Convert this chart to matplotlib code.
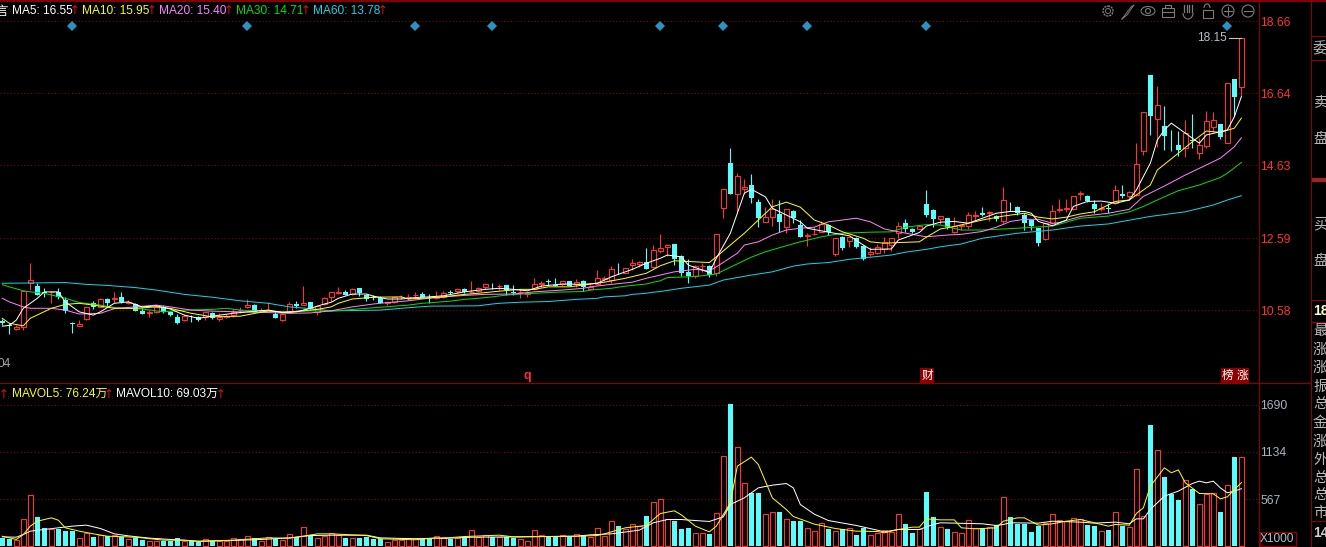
#!/usr/bin/env python3
# -*- coding: utf-8 -*-

import numpy as np
import matplotlib
matplotlib.use('Agg')
import matplotlib.pyplot as plt
from matplotlib.patches import Circle, Ellipse, Rectangle, Arc

W, H = 1326, 547
FONT = ['Liberation Sans', 'Noto Sans CJK SC', 'DejaVu Sans']
CJK = ['Noto Sans CJK SC', 'DejaVu Sans']
RED = '#ff3232'
CYAN = '#54ffff'
FRAME = '#8c0000'

opens = [10.27,10.16,10.06,10.10,11.34,11.25,11.09,11.08,11.10,10.85,
         10.22,10.14,10.33,10.77,10.68,10.88,10.90,10.94,10.78,10.75,
         10.56,10.49,10.54,10.66,10.52,10.38,10.30,10.39,10.38,10.38,
         10.49,10.34,10.38,10.43,10.57,10.66,10.72,10.55,10.56,10.47,
         10.30,10.53,10.75,10.73,10.80,10.52,10.75,10.95,11.07,11.09,
         11.04,11.19,11.00,10.95,10.92,10.78,10.80,10.94,10.93,10.99,
         11.02,10.96,10.93,10.95,11.09,11.11,11.17,11.08,11.12,11.22,
         11.26,11.24,11.27,11.10,11.08,11.04,11.16,11.32,11.38,11.29,
         11.30,11.38,11.31,11.38,11.18,11.31,11.46,11.42,11.71,11.63,
         11.83,11.86,11.92,11.79,12.24,12.35,12.42,12.09,11.65,11.54,
         11.80,11.81,11.61,13.45,14.70,13.84,13.96,14.08,13.60,13.05,
         13.19,13.27,12.91,13.35,12.95,12.65,12.70,12.76,12.95,12.16,
         12.62,12.50,12.59,12.37,12.15,12.18,12.29,12.40,12.73,13.01,
         12.85,12.86,13.55,13.38,13.14,13.15,12.76,12.93,12.92,13.21,
         13.29,13.30,13.21,13.08,13.56,13.46,13.24,13.10,12.87,12.58,
         13.03,13.39,13.42,13.41,13.84,13.77,13.55,13.42,13.44,13.57,
         13.83,13.76,13.80,15.04,17.16,15.94,15.73,15.29,15.20,15.11,
         15.33,14.97,15.18,15.71,15.79,15.25,17.04,16.83]
closes = [10.23,10.14,10.10,11.12,11.41,11.00,11.05,11.09,10.94,10.56,
          10.20,10.18,10.68,10.67,10.88,10.79,10.92,10.80,10.81,10.56,
          10.48,10.54,10.66,10.52,10.45,10.23,10.42,10.38,10.30,10.54,
          10.36,10.38,10.41,10.54,10.59,10.71,10.54,10.57,10.59,10.37,
          10.46,10.74,10.70,10.78,10.62,10.70,10.91,11.08,11.09,11.00,
          11.16,11.07,10.89,10.93,10.79,10.80,10.94,10.96,10.94,11.00,
          10.96,10.95,10.94,11.07,11.07,11.16,11.10,11.10,11.20,11.31,
          11.24,11.26,11.14,11.05,11.10,11.07,11.31,11.34,11.36,11.26,
          11.38,11.26,11.37,11.22,11.23,11.47,11.48,11.72,11.69,11.76,
          11.89,11.92,11.74,12.26,12.31,12.40,12.01,11.61,11.53,11.80,
          11.82,11.56,12.70,13.96,13.84,14.32,14.02,13.73,13.17,13.18,
          13.40,13.05,13.40,13.15,12.63,12.69,12.72,12.99,12.77,12.59,
          12.32,12.62,12.35,12.02,12.21,12.35,12.49,12.59,12.94,12.85,
          12.77,12.93,13.24,13.14,13.20,12.90,12.94,12.95,13.23,13.23,
          13.25,13.32,13.14,13.65,13.54,13.29,13.03,12.93,12.47,13.01,
          13.35,13.41,13.44,13.76,13.86,13.63,13.41,13.44,13.42,13.93,
          13.76,13.88,14.66,16.12,16.00,16.31,15.46,15.27,15.06,15.53,
          15.31,15.19,15.86,15.89,15.41,16.93,16.55,18.19]
highs = [10.32,10.21,10.16,11.12,11.91,11.35,11.21,11.09,11.21,10.95,
         10.24,10.30,10.68,10.83,10.91,10.91,11.09,11.09,10.86,10.77,
         10.63,10.58,10.72,10.72,10.56,10.47,10.47,10.44,10.41,10.54,
         10.53,10.49,10.47,10.60,10.67,10.88,10.74,10.63,10.81,10.56,
         10.49,10.80,10.83,11.25,10.81,10.72,10.94,11.08,11.23,11.14,
         11.20,11.20,11.02,11.00,10.97,10.84,10.94,11.00,11.02,11.09,
         11.08,11.03,11.11,11.11,11.14,11.16,11.21,11.39,11.23,11.35,
         11.33,11.31,11.28,11.28,11.16,11.09,11.48,11.40,11.46,11.49,
         11.38,11.39,11.45,11.42,11.28,11.70,11.54,11.81,11.91,11.76,
         12.01,11.96,12.32,12.40,12.70,12.43,12.42,12.12,12.00,11.84,
         11.91,11.84,12.70,13.96,15.11,14.41,14.24,14.38,13.68,13.46,
         13.68,13.66,13.40,13.38,13.10,12.73,12.91,13.08,12.98,12.59,
         12.65,12.62,12.62,12.40,12.34,12.43,12.62,12.59,13.04,13.13,
         12.87,12.96,13.94,13.41,13.20,13.15,13.18,12.96,13.33,13.35,
         13.46,13.35,13.24,14.03,13.60,13.49,13.29,13.12,12.89,13.01,
         13.52,13.68,13.68,13.78,13.91,13.79,13.66,13.59,13.57,14.08,
         14.08,13.90,15.25,16.12,17.16,16.85,16.29,15.62,15.60,15.90,
         16.07,15.39,16.15,16.13,15.79,16.93,17.04,18.19]
lows = [10.15,9.91,10.02,10.02,11.14,11.00,10.95,10.77,10.89,10.49,
        9.95,10.13,10.30,10.60,10.67,10.67,10.77,10.77,10.74,10.55,
        10.47,10.39,10.49,10.51,10.41,10.19,10.27,10.25,10.27,10.30,
        10.33,10.27,10.36,10.39,10.51,10.64,10.53,10.53,10.52,10.35,
        10.27,10.53,10.65,10.71,10.60,10.45,10.72,10.84,11.03,10.99,
        11.00,10.97,10.84,10.86,10.77,10.73,10.77,10.88,10.86,10.88,
        10.94,10.79,10.88,10.92,11.03,11.05,11.07,11.05,11.09,11.16,
        11.16,11.14,11.00,11.00,10.91,10.95,11.14,11.23,11.28,11.25,
        11.25,11.25,11.23,11.11,11.14,11.28,11.39,11.35,11.59,11.61,
        11.70,11.78,11.72,11.75,12.17,12.09,11.84,11.53,11.35,11.47,
        11.65,11.51,11.54,13.17,13.84,13.31,13.83,13.59,12.91,13.05,
        12.94,12.77,12.75,13.03,12.63,12.38,12.69,12.76,12.68,12.09,
        12.26,12.35,12.33,11.98,12.09,12.15,12.19,12.24,12.61,12.77,
        12.73,12.84,13.18,12.91,12.99,12.84,12.73,12.82,12.86,13.10,
        13.20,13.06,13.06,13.03,13.36,13.24,12.82,12.82,12.37,12.54,
        12.99,13.33,13.33,13.38,13.66,13.61,13.29,13.34,13.29,13.55,
        13.73,13.66,13.76,14.92,15.48,15.15,15.06,15.04,14.89,14.86,
        15.11,14.82,15.11,15.57,15.36,15.25,16.00,16.55]
volumes = [96,92,72,330,617,358,223,203,203,187,
           183,96,163,115,135,123,135,111,92,96,
           72,68,68,68,64,96,68,68,48,92,
           64,64,64,103,92,127,103,68,115,92,
           72,151,115,235,123,107,131,163,135,107,
           107,107,111,84,92,56,72,72,100,103,
           92,103,131,115,92,96,100,199,111,135,
           115,115,115,107,92,68,199,135,119,119,
           139,123,151,139,111,223,131,306,239,203,
           271,243,370,533,569,330,310,203,215,163,
           163,155,402,1083,1707,1190,760,633,633,390,
           414,406,330,299,310,223,187,283,203,187,
           207,219,143,215,139,159,199,175,390,263,
           167,203,645,358,235,203,175,163,318,219,
           223,231,255,593,358,263,263,179,239,279,
           390,318,310,342,326,251,239,187,191,414,
           239,227,927,366,1445,1154,824,621,561,796,
           681,509,621,641,406,736,1063,1071]

ma5_idx = [0,1,2,3,5,6,8,9,11,13,14,16,18,20,22,24,26,28,30,33,35,38,40,42,44,46,47,
           48,50,52,53,55,57,59,61,63,66,69,71,73,75,77,80,83,85,87,90,92,94,
           95,97,98,100,101,102,104,105,106,107,109,110,112,114,115,118,121,123,124,127,128,131,132,134,
           136,138,140,142,144,146,147,148,150,152,153,155,157,159,161,162,164,165,166,167,169,171,172,174,175,176,177]
ma5 = [10.13,10.15,10.30,10.63,10.91,11.09,11.09,10.81,10.53,10.44,10.53,10.77,10.81,10.67,10.70,10.61,10.44,10.35,10.41,10.49,10.53,10.58,10.51,10.53,10.63,10.75,10.80,
       10.91,11.03,11.03,10.97,10.89,10.89,10.93,10.95,10.98,11.09,11.16,11.19,11.16,11.12,11.25,11.31,11.30,11.33,11.51,11.72,11.89,12.03,
       12.12,12.07,11.84,11.70,11.63,12.03,12.73,13.29,13.85,13.96,13.75,13.43,13.24,13.05,12.87,12.76,12.66,12.40,12.28,12.29,12.54,12.75,12.93,13.04,
       13.06,13.01,13.15,13.29,13.34,13.34,13.29,13.06,12.94,13.10,13.48,13.62,13.63,13.57,13.66,13.94,14.69,15.34,15.62,15.81,15.53,15.25,15.48,15.57,15.62,15.99,16.55]

ma10_idx = [0,1,3,4,7,9,11,13,16,19,22,24,27,30,34,38,40,43,45,47,
            48,50,53,57,58,60,63,66,68,71,74,76,78,81,83,86,89,92,94,
            96,99,101,102,104,106,108,110,112,114,116,118,120,123,124,126,128,131,132,134,
            136,138,140,143,146,148,150,152,154,156,159,161,162,164,165,168,170,172,174,176,177]
ma10 = [10.35,10.21,10.14,10.35,10.63,10.74,10.77,10.72,10.63,10.63,10.67,10.63,10.49,10.39,10.41,10.56,10.52,10.56,10.60,10.67,
        10.77,10.89,10.94,10.95,10.89,10.91,10.95,11.02,11.05,11.11,11.16,11.16,11.23,11.23,11.28,11.36,11.47,11.61,11.82,
        11.96,11.93,11.91,12.07,12.40,12.73,13.10,13.47,13.60,13.46,13.10,12.96,12.77,12.59,12.49,12.45,12.47,12.49,12.62,12.85,
        12.92,13.01,13.10,13.21,13.29,13.18,13.13,13.18,13.27,13.33,13.62,13.66,13.80,14.08,14.50,14.97,15.29,15.59,15.55,15.67,15.95]

ma20_idx = [0,1,3,4,7,9,11,14,16,19,22,24,27,30,34,38,41,44,47,
            50,53,55,58,60,63,66,69,73,76,80,83,84,87,90,92,94,
            96,99,101,102,105,106,108,110,112,114,116,118,120,122,124,126,128,130,132,135,
            137,140,142,144,146,148,150,151,154,158,161,163,166,169,172,174,176,177]
ma20 = [10.91,10.81,10.67,10.63,10.63,10.58,10.47,10.49,10.62,10.67,10.72,10.67,10.58,10.55,10.53,10.51,10.49,10.50,10.56,
        10.67,10.75,10.79,10.84,10.89,10.95,10.99,11.02,11.03,11.09,11.14,11.19,11.23,11.30,11.36,11.47,11.56,
        11.65,11.72,11.68,11.79,12.17,12.40,12.49,12.68,12.82,12.87,12.90,13.05,13.10,13.15,13.05,12.85,12.77,12.70,12.63,12.68,
        12.70,12.78,12.90,13.06,13.12,13.12,13.01,13.03,13.20,13.29,13.40,13.76,14.05,14.36,14.64,14.83,15.15,15.40]

ma30_idx = [0,1,3,4,6,9,11,14,16,20,23,26,30,32,34,38,41,44,47,
            49,52,54,56,58,60,62,64,66,68,70,72,76,79,83,84,87,88,89,92,93,94,
            95,98,100,102,104,107,109,112,114,117,120,124,127,129,132,134,137,
            140,145,150,154,158,161,163,166,168,171,174,175,177]
ma30 = [11.29,11.23,11.12,11.09,11.05,10.91,10.79,10.72,10.65,10.61,10.53,10.58,10.60,10.63,10.58,10.55,10.53,10.56,10.55,
        10.58,10.63,10.66,10.69,10.72,10.77,10.80,10.83,10.88,10.91,10.95,11.00,11.05,11.08,11.10,11.14,11.19,11.22,11.25,11.31,11.36,11.40,
        11.49,11.51,11.54,11.59,11.78,12.06,12.21,12.38,12.49,12.63,12.73,12.76,12.77,12.90,12.97,12.96,12.82,
        12.82,12.87,12.93,13.15,13.21,13.33,13.48,13.75,13.92,14.08,14.29,14.41,14.71]

ma60_idx = [0,9,12,15,19,22,26,30,34,38,41,44,47,
            54,57,61,68,70,71,74,78,80,82,85,86,89,90,92,93,94,
            97,101,103,107,110,113,115,118,121,124,127,129,132,134,137,
            140,145,150,154,158,164,169,173,175,177]
ma60 = [11.33,11.35,11.30,11.27,11.21,11.14,11.02,10.94,10.84,10.77,10.67,10.62,10.56,
        10.58,10.63,10.69,10.70,10.75,10.77,10.80,10.82,10.85,10.88,10.91,10.95,10.98,11.02,11.05,11.08,11.10,
        11.19,11.28,11.42,11.56,11.65,11.81,11.87,11.91,12.00,12.06,12.12,12.20,12.28,12.35,12.43,
        12.59,12.73,12.82,12.93,12.99,13.20,13.33,13.52,13.66,13.78]

mavol5_idx = [0,1,2,3,4,5,7,8,9,11,13,15,18,20,23,26,28,33,36,38,41,43,45,47,52,54,59,62,
              63,66,71,73,77,82,85,86,89,92,94,96,97,99,101,102,104,105,107,108,110,112,113,116,119,122,125,
              126,128,130,131,132,134,136,137,139,142,143,145,146,148,150,152,154,156,158,159,161,162,163,164,166,167,168,169,171,173,174,175,177]
mavol5 = [123,103,84,143,243,302,342,314,223,183,151,123,115,103,76,76,60,76,92,103,99,123,151,151,131,92,80,103,
          100,119,135,115,119,123,131,151,223,251,394,426,378,243,175,243,521,959,1067,979,581,442,358,267,215,183,179,
          163,203,231,231,330,318,318,223,211,223,302,342,342,255,271,302,322,283,243,263,255,394,462,720,939,880,915,760,633,629,569,593,762]

mavol10_idx = [0,2,3,4,6,8,10,12,14,16,18,21,24,28,33,37,41,44,47,52,54,59,62,
               63,67,74,82,84,87,91,93,95,97,99,101,103,104,106,108,110,112,113,114,116,118,122,125,
               126,128,131,133,134,140,142,143,144,148,150,154,156,159,161,162,163,164,166,168,170,171,172,173,174,175,176,177]
mavol10 = [115,111,143,183,203,223,243,255,215,151,127,100,84,64,72,84,103,131,135,135,103,92,100,
           96,111,115,123,139,151,195,283,322,322,310,299,354,501,581,700,732,752,700,501,386,310,251,195,
           175,203,203,263,283,271,251,263,283,279,302,291,279,291,271,330,330,442,601,661,752,780,760,780,700,641,661,690]

price_ticks = [18.66, 16.64, 14.63, 12.59, 10.58]
vol_ticks = [1690, 1134, 567]
signal_idx = [10, 35, 59, 70, 94, 103, 115, 132, 175]
side_labels = ['委', '卖', '盘', '买', '盘', '最', '涨', '涨', '振', '总', '金', '涨', '外', '总', '总', '市']
side_rows = [49, 102, 139, 224, 261, 331, 350, 368, 387, 404, 423, 442, 460, 478, 495, 513]


def setup_axis(ax, ticks, ylim, labelcolor):
    ax.set_facecolor('black')
    ax.set_xlim(-0.33, 179.45)
    ax.set_ylim(*ylim)
    ax.set_xticks([])
    ax.set_yticks(ticks)
    ax.set_yticklabels(['{:g}'.format(t) if t > 100 else '{:.2f}'.format(t) for t in ticks],
                       family=FONT, fontsize=8.7, color=labelcolor)
    ax.yaxis.tick_right()
    ax.tick_params(axis='y', length=0, pad=1.2)
    ax.grid(axis='y', color='#a00000', linestyle=(0, (1, 2.5)), linewidth=0.7)
    ax.set_axisbelow(True)
    for s in ax.spines.values():
        s.set_visible(False)


def draw_candles(ax):
    x = np.arange(len(opens))
    o, c, h, l = map(np.array, (opens, closes, highs, lows))
    up = c >= o
    ax.vlines(x[up], l[up], h[up], color=RED, linewidth=0.8, zorder=2)
    ax.vlines(x[~up], l[~up], h[~up], color=CYAN, linewidth=0.8, zorder=2)
    ax.bar(x[up], (c - o)[up], bottom=o[up], width=0.68, facecolor='black',
           edgecolor=RED, linewidth=0.8, zorder=3)
    ax.bar(x[~up], (o - c)[~up], bottom=c[~up], width=0.76, color=CYAN,
           linewidth=0, zorder=3)
    for idx, vals, col in [(ma60_idx, ma60, '#12d5ea'), (ma30_idx, ma30, '#00e000'),
                           (ma20_idx, ma20, '#ff80ff'), (ma10_idx, ma10, '#ffff00'),
                           (ma5_idx, ma5, 'white')]:
        ax.plot(idx, vals, color=col, linewidth=0.72, zorder=4)
    ax.plot(signal_idx, [18.52] * len(signal_idx), linestyle='none', marker='D',
            markersize=5.2, color='#2b93c4', markeredgewidth=0, zorder=5)


def draw_volume(ax):
    x = np.arange(len(opens))
    up = np.array(closes) >= np.array(opens)
    v = np.array(volumes)
    ax.bar(x[up], v[up], width=0.68, facecolor='black', edgecolor=RED, linewidth=0.8, zorder=2)
    ax.bar(x[~up], v[~up], width=0.76, color=CYAN, linewidth=0, zorder=2)
    ax.plot(mavol10_idx, mavol10, color='white', linewidth=0.72, zorder=3)
    ax.plot(mavol5_idx, mavol5, color='#ffff00', linewidth=0.72, zorder=4)


def draw_icons(ov):
    col = '#7c7c7c'
    y = 11
    ov.add_patch(Circle((1108, y), 2.5, fill=False, ec=col, lw=0.7))
    ov.add_patch(Circle((1108, y), 5, fill=False, ec=col, lw=1.0, ls=(0, (1.6, 0.6))))
    ov.plot([1122, 1131, 1134, 1127, 1122], [19, 7, 5, 15, 19], color=col, lw=0.7)
    ov.add_patch(Ellipse((1148, y), 14, 9, fill=False, ec=col, lw=0.8))
    ov.add_patch(Circle((1148, y), 2.5, fill=False, ec=col, lw=0.8))
    ov.add_patch(Rectangle((1162, 8), 12, 9, fill=False, ec=col, lw=0.8))
    ov.add_patch(Rectangle((1165, 5), 6, 3, fill=False, ec=col, lw=0.8))
    ov.plot([1162, 1174], [12, 12], color=col, lw=0.8)
    for hx in [1184, 1186.5, 1189, 1191.5]:
        ov.plot([hx, hx], [5, 12], color=col, lw=0.9)
    ov.add_patch(Arc((1188, 13), 10, 12, theta1=0, theta2=180, ec=col, lw=0.8))
    ov.add_patch(Rectangle((1203, 10), 10, 8, fill=False, ec=col, lw=0.8))
    ov.add_patch(Arc((1207, 8), 6, 8, theta1=180, theta2=360, ec=col, lw=0.8))
    ov.add_patch(Circle((1228, y), 6, fill=False, ec=col, lw=0.8))
    ov.plot([1224, 1232], [y, y], color=col, lw=0.8)
    ov.plot([1228, 1228], [7, 15], color=col, lw=0.8)
    ov.add_patch(Circle((1248, y), 6, fill=False, ec=col, lw=0.8))
    ov.plot([1244, 1252], [y, y], color=col, lw=0.8)


def up_arrow(ov, x0, y0):
    ov.text(x0, y0, '↑', color='#e01010', family='DejaVu Sans', fontsize=8.5, va='center', ha='center')


def draw_overlay(fig):
    ov = fig.add_axes([0, 0, 1, 1], facecolor='none')
    ov.set_xlim(0, W)
    ov.set_ylim(H, 0)
    ov.axis('off')
    # frame lines
    ov.plot([0, W], [1, 1], color=FRAME, lw=1.4)
    ov.plot([0, 1311], [383, 383], color=FRAME, lw=0.8)
    ov.plot([1258.5, 1258.5], [0, H], color=FRAME, lw=0.8)
    ov.plot([1311, 1311], [0, H], color=FRAME, lw=0.8)
    for yy in [36, 60, 300, 322, 521]:
        ov.plot([1311, W], [yy, yy], color=FRAME, lw=0.8)
    ov.add_patch(Rectangle((1312, 178), 14, 3.5, color='#a82020', lw=0))
    ov.add_patch(Rectangle((1259.5, 532), 36, 14, fill=False, ec=FRAME, lw=0.9))

    kw = dict(family=FONT, fontsize=8.6, va='center', ha='left')
    # price legend
    ov.text(-5, 11, '言', color='white', family=CJK, fontsize=9, va='center')
    for x0, s, col, ax0 in [(12, 'MA5: 16.55', 'white', 75), (82, 'MA10: 15.95', '#ffff00', 152),
                            (159, 'MA20: 15.40', '#ff80ff', 229), (236, 'MA30: 14.71', '#00e000', 306),
                            (313, 'MA60: 13.78', '#12d5ea', 383)]:
        ov.text(x0, 11, s, color=col, **kw)
        up_arrow(ov, ax0, 11)
    # volume legend
    up_arrow(ov, 4, 395)
    ov.text(12, 394, 'MAVOL5: 76.24万', color='#ffff00', **kw)
    up_arrow(ov, 109, 395)
    ov.text(116, 394, 'MAVOL10: 69.03万', color='white', **kw)
    up_arrow(ov, 221, 395)

    # annotations
    ov.text(1197, 38, '18.15', color='#b4bec8', **kw)
    ov.plot([1229, 1241], [38, 38], color='#c8c8c8', lw=0.8)
    ov.text(-2, 364, '04', color='#a0a0a0', **kw)
    ov.text(527, 376, 'q', color=RED, family=FONT, fontsize=9, fontweight='bold', va='center', ha='center')
    for x0, s in [(927, '财'), (1228, '榜'), (1242, '涨')]:
        ov.text(x0, 375.5, s, color='white', family=CJK, fontsize=8.4, va='center', ha='center',
                bbox=dict(facecolor='#8c0000', edgecolor='none', pad=0.6))
    ov.text(1260, 539, 'X1000', color='#b4bec8', **kw)

    # right column
    for s, yy in zip(side_labels, side_rows):
        ov.text(1313, yy, s, color='#b8b8b8', family=CJK, fontsize=10.5, va='center', ha='left', clip_on=True)
    ov.text(1313, 311, '18', color='#ffffc0', family=FONT, fontsize=10, fontweight='bold', va='center', clip_on=True)
    ov.text(1313, 533, '14', color='#d0d0d0', family=FONT, fontsize=10, fontweight='bold', va='center', clip_on=True)
    draw_icons(ov)


def main():
    fig = plt.figure(figsize=(W / 100, H / 100), dpi=100, facecolor='black')
    ax1 = fig.add_axes([0, (H - 383) / H, 1258.5 / W, 381 / H])
    ax2 = fig.add_axes([0, 0, 1258.5 / W, 163 / H])
    setup_axis(ax1, price_ticks, (8.54, 19.20), RED)
    setup_axis(ax2, vol_ticks, (-6, 1940), '#a8b4c0')
    draw_candles(ax1)
    draw_volume(ax2)
    draw_overlay(fig)
    fig.savefig('out.png', dpi=100, facecolor='black')


if __name__ == "__main__":
    main()
